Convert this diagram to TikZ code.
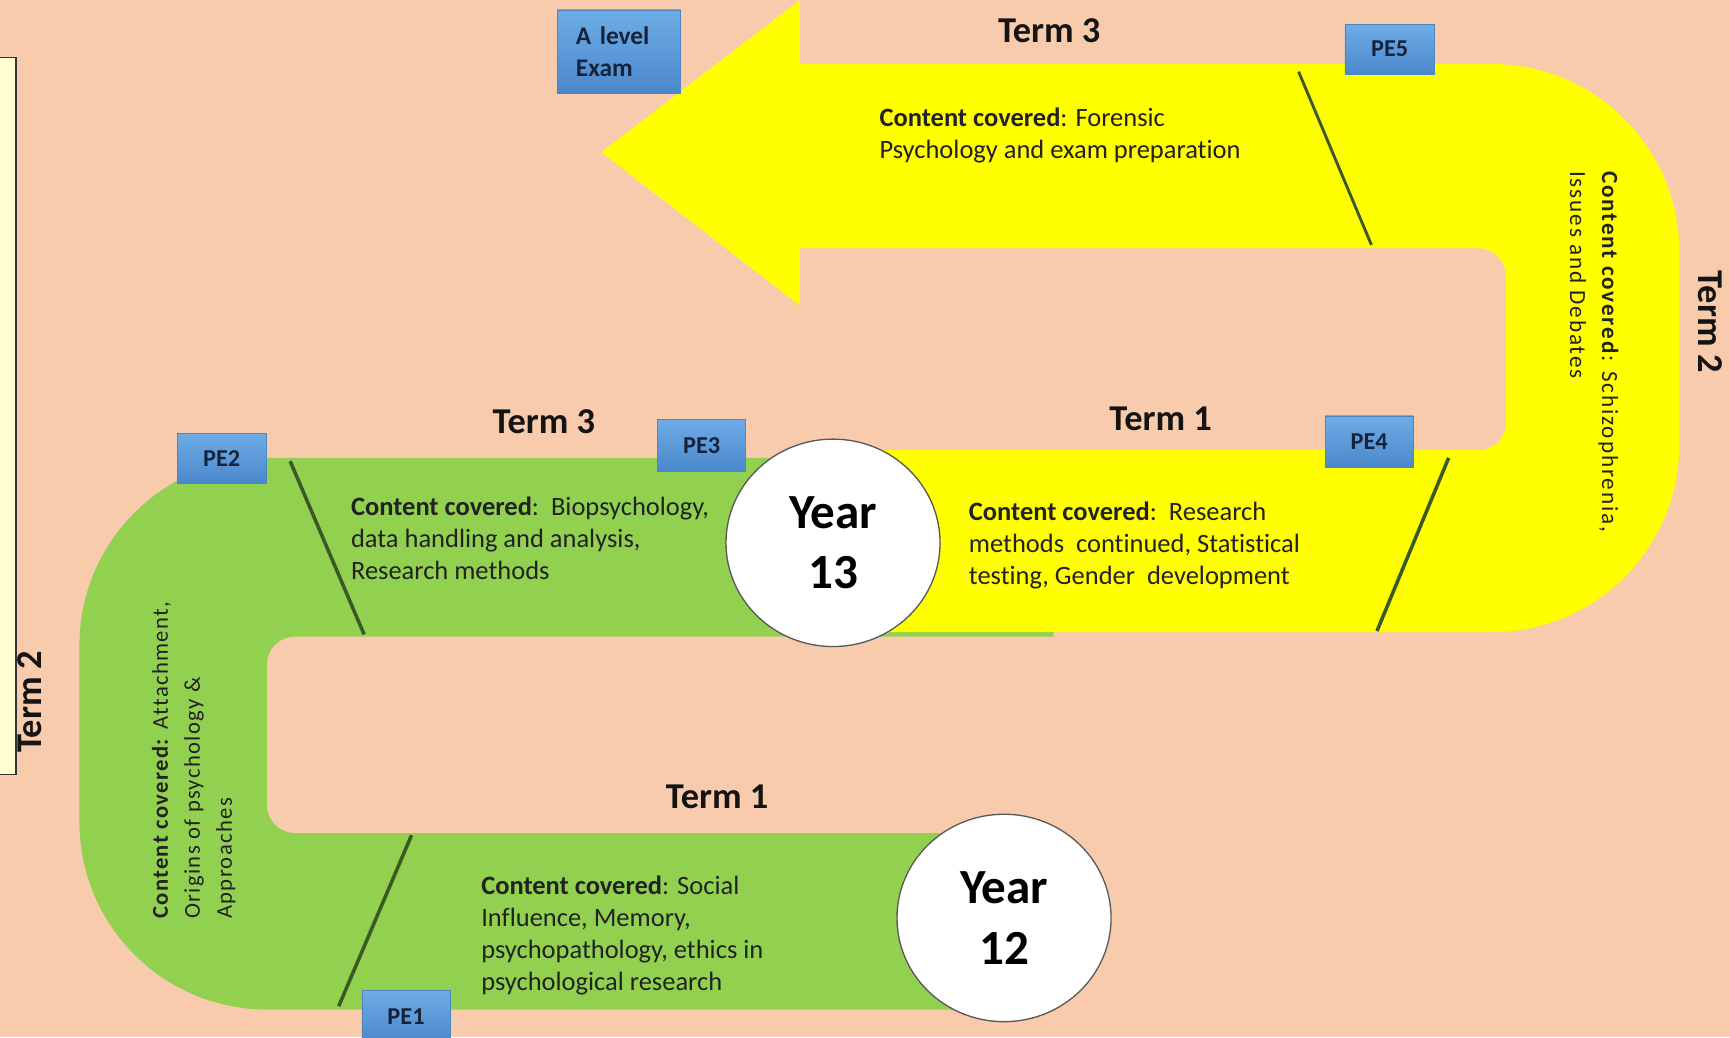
\documentclass[tikz,border=0pt]{standalone}
\usepackage{fontspec}
\setmainfont{Carlito}[Ligatures=NoCommon]
\newfontfamily\spacedfont[LetterSpace=6,Ligatures=NoCommon]{Carlito}
\newfontfamily\widefont[LetterSpace=8,Ligatures=NoCommon]{Carlito}
\usetikzlibrary{shapes.geometric}

\definecolor{bg}{HTML}{F8CBAD}
\definecolor{trackyellow}{HTML}{FFFF00}
\definecolor{trackgreen}{HTML}{92D050}
\definecolor{divider}{HTML}{3B5A23}
\definecolor{peborder}{HTML}{4F86BE}
\definecolor{pebluetop}{HTML}{6EACE6}
\definecolor{peblueb}{HTML}{4A88CC}
\definecolor{noteyellow}{HTML}{FFFFD2}
\definecolor{txt}{HTML}{222222}
\definecolor{boxtxt}{HTML}{16233A}

\begin{document}
\begin{tikzpicture}[x=1pt,y=1pt,
  pebox/.style={rectangle, draw=peborder, line width=0.7pt, top color=pebluetop, bottom color=peblueb,
    inner sep=0pt, text=boxtxt, font=\fontsize{22}{26}\selectfont\bfseries},
  yearcircle/.style={ellipse, draw=black!65, line width=1.2pt, fill=white, minimum width=194pt,
    minimum height=188pt, inner sep=0pt, align=center, text=black, font=\fontsize{44.5}{55}\selectfont\bfseries},
  termlabel/.style={inner sep=0pt, text=black!92, font=\fontsize{33}{38}\selectfont\bfseries},
  content/.style={inner sep=0pt, align=left, text=txt, font=\fontsize{24}{29}\selectfont},
  rotcontent/.style={inner sep=0pt, align=left, text=txt, font=\fontsize{20.5}{29}\spacedfont},
  rotcontentwide/.style={inner sep=0pt, align=left, text=txt, font=\fontsize{21}{29}\widefont},
  dividerline/.style={draw=divider, line width=3.2pt},
  notebox/.style={draw=black!80, line width=1.5pt, fill=noteyellow}
]
\useasboundingbox (0,0) rectangle (1568,940);
\clip (0,0) rectangle (1568,940);
\fill[bg] (0,0) rectangle (1568,940);

% left note panel
\draw[notebox] (-20,238) rectangle (14.5,888);

% green track (Year 12)
\fill[trackgreen] (880,25) -- (242,25) arc[start angle=270,end angle=180,radius=170]
  -- (72,355) arc[start angle=180,end angle=90,radius=170]
  -- (955,525) -- (955,363) -- (267,363) arc[start angle=90,end angle=180,radius=25]
  -- (242,210) arc[start angle=180,end angle=270,radius=25] -- (880,185) -- cycle;

% yellow track (Year 13) with arrow head
\fill[trackyellow] (760,367) -- (1352,367) arc[start angle=270,end angle=360,radius=170]
  -- (1522,712) arc[start angle=0,end angle=90,radius=170]
  -- (725,882) -- (725,940) -- (545,802) -- (725,663) -- (725,715)
  -- (1340,715) arc[start angle=90,end angle=0,radius=25]
  -- (1365,557) arc[start angle=0,end angle=-90,radius=25] -- (760,532) -- cycle;

% dividers
\coordinate (d1a) at (373,183); \coordinate (d1b) at (307,28);
\coordinate (d2a) at (263,522); \coordinate (d2b) at (330,365);
\coordinate (d4a) at (1313,525); \coordinate (d4b) at (1248,368);
\coordinate (d5a) at (1177,875); \coordinate (d5b) at (1243,718);
\draw[dividerline] (d1a) -- (d1b);
\draw[dividerline] (d2a) -- (d2b);
\draw[dividerline] (d4a) -- (d4b);
\draw[dividerline, line width=2.6pt] (d5a) -- (d5b);

% year circles
\node[yearcircle] (y13) at (755,448) {Year\\13};
\node[yearcircle] (y12) at (910,108) {Year\\12};

% PE boxes
\node[pebox, minimum width=112pt, minimum height=76pt, text width=78pt, align=left, inner xsep=17pt,
  font=\fontsize{23}{29}\selectfont\bfseries] (exam) at (561,893) {A level\\Exam};
\node[pebox, minimum width=81pt, minimum height=45pt] (pe5) at (1259.5,895.5) {PE5};
\node[pebox, minimum width=80pt, minimum height=45pt] (pe2) at (201,524.5) {PE2};
\node[pebox, minimum width=80pt, minimum height=47pt] (pe3) at (636,536.5) {PE3};
\node[pebox, minimum width=80pt, minimum height=47pt] (pe4) at (1241,539.5) {PE4};
\node[pebox, minimum width=80pt, minimum height=46pt] (pe1) at (368,19) {PE1};

% term labels
\node[termlabel] (t3top) at (951,912) {Term 3};
\node[termlabel] (t3mid) at (493,558) {Term 3};
\node[termlabel] (t1up) at (1052,560) {Term 1};
\node[termlabel] (t1low) at (650,218) {Term 1};
\node[termlabel, rotate=-90] (t2right) at (1550,648) {Term 2};
\node[termlabel, rotate=90] (t2left) at (27,304) {Term 2};

% content texts
\node[content, anchor=north west] (cforensic) at (797,842)
  {\textbf{Content covered}: Forensic\\Psychology and exam preparation};
\node[content, anchor=north west] (cbio) at (318,490)
  {\textbf{Content covered}:\ \ Biopsychology,\\data handling and analysis,\\Research methods};
\node[content, anchor=north west] (cresearch) at (878,485)
  {\textbf{Content covered}:\ \ Research\\methods\ \ continued, Statistical\\testing, Gender\ \ development};
\node[content, anchor=north west] (csocial) at (436,146)
  {\textbf{Content covered}: Social\\Influence, Memory,\\psychopathology, ethics in\\psychological research};
\node[rotcontent, rotate=90, anchor=north west] (cattach) at (137.5,107)
  {\textbf{Content covered:} Attachment,\\Origins of psychology \&\\Approaches};
\node[rotcontentwide, rotate=-90, anchor=north west] (cschizo) at (1467,785)
  {\textbf{Content covered}: Schizophrenia,\\Issues and Debates};
\end{tikzpicture}
\end{document}
